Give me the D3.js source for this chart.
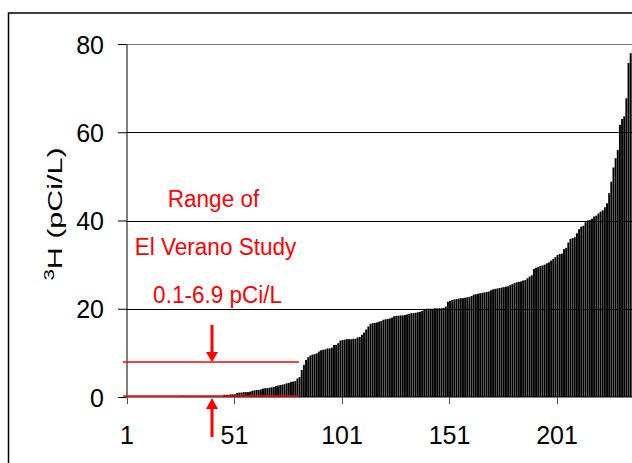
<!DOCTYPE html>
<html>
<head>
<meta charset="utf-8">
<script src="https://cdn.jsdelivr.net/npm/d3@7"></script>
<style>
  body { margin: 0; background: #fff; }
  svg { display: block; font-family: "Liberation Sans", Arial, sans-serif; }
</style>
</head>
<body>
<svg id="chart" width="632" height="463"></svg>
<script>
// tritium values, sorted ascending (pCi/L), one per sample
const tritium = [
  0, 0, 0, 0, 0, 0, 0, 0, 0, 0,
  0, 0, 0, 0, 0, 0, 0, 0, 0, 0,
  0, 0, 0, 0, 0, 0.1, 0.1, 0.1, 0.1, 0.1,
  0.1, 0.1, 0.1, 0.1, 0.1, 0.1, 0.1, 0.1, 0.1, 0.1,
  0.1, 0.1, 0.1, 0.1, 0.1, 0.5, 0.5, 0.5, 0.6, 0.6,
  0.6, 0.9, 1.0, 1.0, 1.1, 1.1, 1.1, 1.2, 1.4, 1.5,
  1.6, 1.6, 1.7, 1.9, 2.0, 2.0, 2.1, 2.2, 2.3, 2.5,
  2.6, 2.7, 2.8, 2.9, 3.1, 3.2, 3.4, 3.5, 3.6, 4.2,
  4.5, 6.1, 7.3, 8.4, 9.0, 9.4, 9.6, 9.7, 9.9, 10.3,
  10.6, 10.7, 10.8, 11.0, 11.0, 11.2, 11.8, 11.8, 12.2, 12.8,
  12.9, 13.0, 13.1, 13.1, 13.1, 13.2, 13.2, 13.5, 13.6, 14.1,
  14.6, 15.3, 16.0, 16.6, 16.7, 16.8, 16.9, 17.1, 17.2, 17.5,
  17.6, 17.7, 17.8, 18.0, 18.3, 18.4, 18.4, 18.5, 18.5, 18.6,
  18.7, 18.8, 19.0, 19.0, 19.1, 19.2, 19.3, 19.5, 19.7, 20.0,
  20.0, 20.0, 20.0, 20.1, 20.1, 20.1, 20.1, 20.2, 20.5, 21.6,
  21.8, 22.0, 22.1, 22.2, 22.3, 22.4, 22.4, 22.5, 22.6, 22.7,
  22.9, 23.2, 23.3, 23.4, 23.5, 23.6, 23.7, 23.8, 23.9, 24.2,
  24.4, 24.5, 24.6, 24.7, 24.8, 24.9, 25.0, 25.1, 25.4, 25.6,
  25.8, 26.0, 26.1, 26.2, 26.4, 26.5, 26.9, 27.3, 27.6, 29.0,
  29.3, 29.5, 29.7, 29.8, 30.0, 30.3, 30.5, 30.9, 31.3, 31.7,
  32.2, 32.4, 32.5, 33.5, 33.8, 35.0, 35.8, 36.0, 36.2, 37.1,
  38.0, 38.6, 38.8, 39.6, 40.0, 40.1, 40.4, 40.9, 41.1, 41.6,
  42.0, 42.3, 43.0, 43.9, 46.2, 48.8, 52.0, 54.1, 56.0, 61.7,
  63.0, 63.6, 67.7, 75.7, 77.9, 78.5
];
const samples = tritium.map((v, i) => i + 1);
const xTicks = [1, 51, 101, 151, 201];
const yTicks = [0, 20, 40, 60, 80];
const studyNote = ['Range of', 'El Verano Study', '0.1-6.9 pCi/L'];
const studyBand = [0, 7.7]; // red marker lines

const svg = d3.select('#chart');
const plotLeft = 126.5, plotRight = 126.5 + samples.length * 2.15;
const plotTop = 44, plotBottom = 397;

const x = d3.scaleBand().domain(samples).range([plotLeft, plotRight]).padding(0);
const y = d3.scaleLinear().domain([0, 80]).range([plotBottom, plotTop]);
const bw = x.bandwidth();

// outer frame (clipped at right / bottom like the original)
svg.append('path')
  .attr('d', 'M8.5,470V13H640')
  .attr('fill', 'none').attr('stroke', '#000').attr('stroke-width', 1.5);

// gridlines
svg.append('g').selectAll('line')
  .data(yTicks.filter(d => d > 0))
  .join('line')
  .attr('x1', plotLeft).attr('x2', 632)
  .attr('y1', d => Math.round(y(d)) + 0.5).attr('y2', d => Math.round(y(d)) + 0.5)
  .attr('stroke', d => d === 80 ? '#777' : '#000').attr('stroke-width', 1);

// bars
svg.append('g').selectAll('rect')
  .data(tritium)
  .join('rect')
  .attr('x', (d, i) => x(samples[i]) + 0.1)
  .attr('width', bw - 0.22)
  .attr('y', d => y(d))
  .attr('height', d => plotBottom - y(d))
  .attr('fill', '#000');

// y axis
const yAxis = svg.append('g')
  .attr('transform', `translate(${plotLeft},0)`)
  .call(d3.axisLeft(y).tickValues(yTicks).tickSize(8.5).tickPadding(14).tickSizeOuter(0));
yAxis.select('.domain').attr('stroke', '#000');
yAxis.selectAll('text').attr('font-size', 25).attr('fill', '#000')
  .attr('font-family', '"Liberation Sans", Arial, sans-serif').attr('dy', '0.36em');

// x axis
svg.append('line')
  .attr('x1', plotLeft).attr('x2', 632).attr('y1', plotBottom).attr('y2', plotBottom)
  .attr('stroke', '#000').attr('stroke-width', 1.2);
const xg = svg.append('g');
xg.selectAll('line').data(xTicks).join('line')
  .attr('x1', d => Math.round(x(d)) + 0.5).attr('x2', d => Math.round(x(d)) + 0.5)
  .attr('y1', plotBottom).attr('y2', plotBottom + 7)
  .attr('stroke', '#555');
xg.selectAll('text').data(xTicks).join('text')
  .attr('x', d => x(d) + 0.5).attr('y', 444)
  .attr('text-anchor', 'middle').attr('font-size', 25)
  .text(d => d);

// y axis title, stretched along its length as in the original
const title = svg.append('text')
  .attr('transform', 'translate(62,214) rotate(-90) scale(1.45,1)')
  .attr('text-anchor', 'middle').attr('font-size', 21);
title.append('tspan').attr('font-size', 14).attr('dy', -8).text('3');
title.append('tspan').attr('dy', 8).text('H (pCi/L)');

// study range markers
svg.append('g').selectAll('line')
  .data(studyBand)
  .join('line')
  .attr('x1', 123).attr('x2', 299)
  .attr('y1', d => y(d) - 1).attr('y2', d => y(d) - 1)
  .attr('stroke', '#ff0000').attr('stroke-width', 1.5);

const arrowX = 212;
svg.append('path')
  .attr('d', `M${arrowX - 1.5},325V352H${arrowX - 6}L${arrowX},${y(studyBand[1]) - 1}L${arrowX + 6},352H${arrowX + 1.5}V325Z`)
  .attr('fill', '#ff0000');
svg.append('path')
  .attr('d', `M${arrowX - 1.5},437V409H${arrowX - 6}L${arrowX},${y(studyBand[0]) + 1}L${arrowX + 6},409H${arrowX + 1.5}V437Z`)
  .attr('fill', '#ff0000');

// annotation text, slightly taller than wide as in the original
svg.append('g').selectAll('text')
  .data(studyNote)
  .join('text')
  .attr('transform', (d, i) => `translate(${[213.5, 215.5, 217.5][i]},${[207, 255, 302.5][i]}) scale(1,1.1)`)
  .attr('text-anchor', 'middle')
  .attr('font-size', 22.5)
  .attr('fill', '#ff0000')
  .text(d => d);
</script>
</body>
</html>
